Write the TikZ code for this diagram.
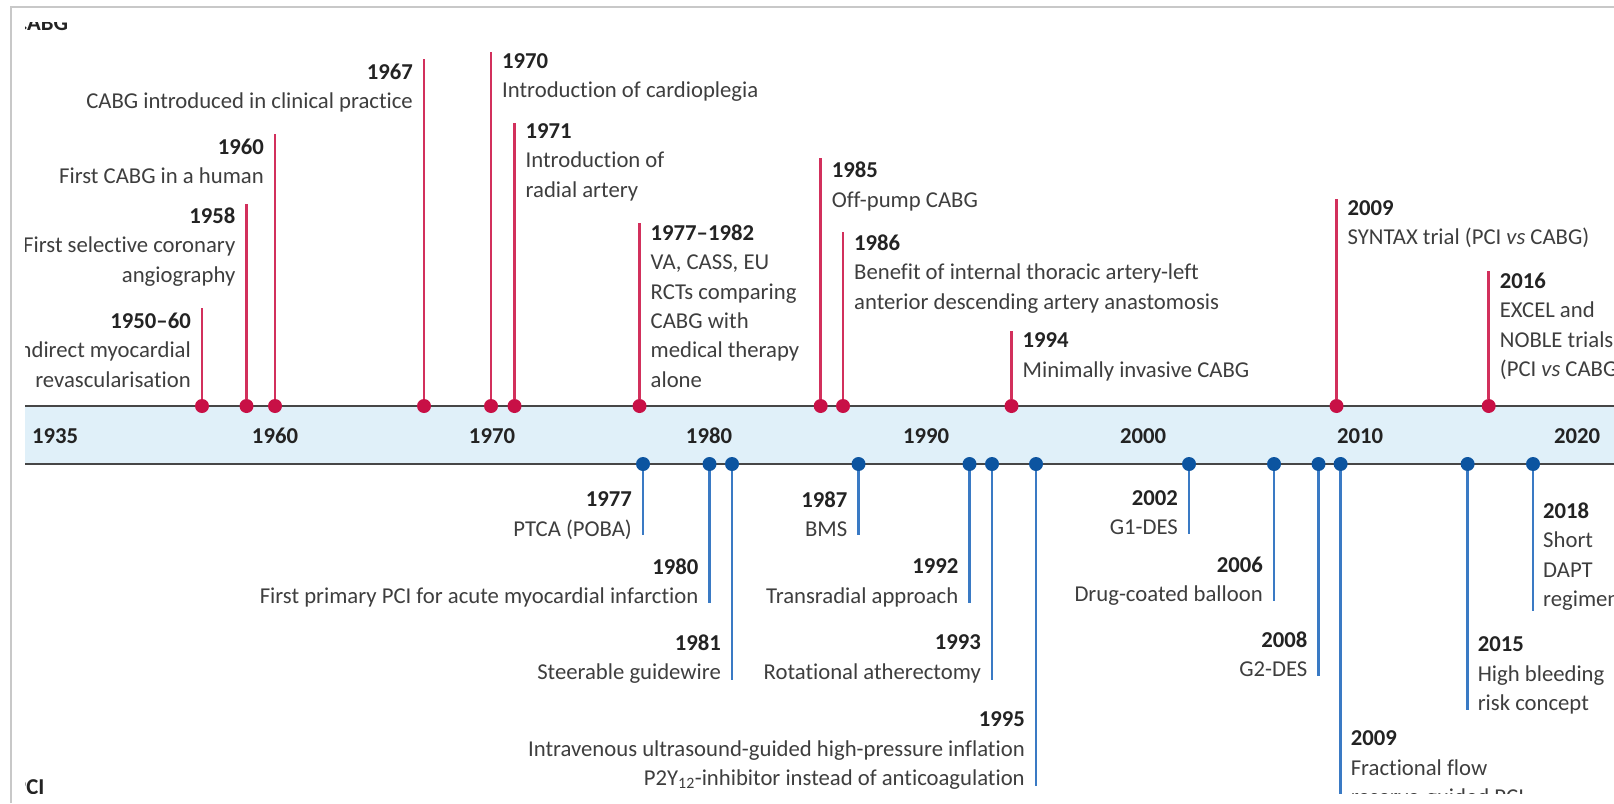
\documentclass[tikz,border=0pt]{standalone}
\usepackage{fontspec}
\setmainfont{Carlito}[Ligatures=NoCommon]
\definecolor{capred}{RGB}{200,16,70}
\definecolor{capstemred}{RGB}{210,48,92}
\definecolor{pciblue}{RGB}{12,84,160}
\definecolor{pcistemblue}{RGB}{58,122,196}
\definecolor{bandfill}{RGB}{224,240,249}
\definecolor{axisgray}{RGB}{70,70,70}
\definecolor{txtgray}{RGB}{62,62,62}
\definecolor{yeargray}{RGB}{35,35,35}
\definecolor{framegray}{RGB}{200,200,200}
\newcommand{\yearlbl}[1]{{\bfseries\color{yeargray}#1}}

\begin{document}
\begin{tikzpicture}[x=1pt,y=-1pt,
    txt/.style={inner sep=0pt, text=txtgray, font=\fontsize{22.7}{29.4}\selectfont},
    lblL/.style={txt, anchor=north west, align=left},
    lblR/.style={txt, anchor=north east, align=right},
    capdot/.style={circle, fill=capred, inner sep=0pt, minimum size=14pt},
    pcidot/.style={circle, fill=pciblue, inner sep=0pt, minimum size=14pt},
    capline/.style={draw=capstemred, line width=2.6pt},
    pciline/.style={draw=pcistemblue, line width=2.4pt},
    axisline/.style={draw=axisgray, line width=2.6pt}]
    \def \axtop {406}
    \def \axbot {464}
    \def \capoff {7.3} % half the cap height, year top from its centre

    \fill[white] (0,0) rectangle (1614,803);
    \useasboundingbox (0,0) rectangle (1614,803);
    \draw[framegray, line width=1.3pt] (11,803) -- (11,7) -- (1614,7);

    \begin{scope}
    \clip (25,22) rectangle (1614,793);
    \node[txt, anchor=base west] (capttl) at (15,30) {\yearlbl{CABG}};
    \node[txt, anchor=base west] (pcittl) at (14,794.6) {\yearlbl{PCI}};

    % the time band
    \coordinate (bandL) at (25,\axtop);
    \coordinate (bandR) at (1614,\axbot);
    \fill[bandfill] (bandL) rectangle (bandR);
    \draw[axisline] (bandL) -- (bandL -| bandR);
    \draw[axisline] (bandL |- bandR) -- (bandR);
    \node[txt, anchor=west] (a1935) at (32,436) {\yearlbl{1935}};
    \foreach \y in {1960,1970,...,2020}
      \node[txt] (a\y) at ({275+21.7*(\y-1960)},436) {\yearlbl{\y}};

    % CABG, text left of the stem
    \foreach \n/\x/\tp/\yc/\txt in {
      r1950/202/308/320/{\yearlbl{1950--60}\\Indirect myocardial\\revascularisation},
      r1958/246.5/204/215/{\yearlbl{1958}\\First selective coronary\\angiography},
      r1960/275/134/145.7/{\yearlbl{1960}\\First CABG in a human},
      r1967/424/59/70.7/{\yearlbl{1967}\\CABG introduced in clinical practice}}
    {
      \coordinate (\n top) at (\x,\tp);
      \node[capdot] (\n) at (\x,\axtop) {};
      \draw[capline] (\n) -- (\n top);
      \node[lblR] (\n txt) at ({\x-11},{\yc-\capoff}) {\txt};
    }
    % CABG, text right of the stem
    \foreach \n/\x/\tp/\yc/\txt in {
      r1970/491/52/60.7/{\yearlbl{1970}\\Introduction of cardioplegia},
      r1971/514.5/122.7/130.7/{\yearlbl{1971}\\Introduction of\\radial artery},
      r1977/639.5/223/231.7/{\yearlbl{1977--1982}\\VA, CASS, EU\\RCTs comparing\\CABG with\\medical therapy\\alone},
      r1985/820.7/158.3/169.3/{\yearlbl{1985}\\Off-pump CABG},
      r1986/843/231.7/241.7/{\yearlbl{1986}\\Benefit of internal thoracic artery-left\\anterior descending artery anastomosis},
      r1994/1011.5/331/340/{\yearlbl{1994}\\Minimally invasive CABG},
      r2009/1336.5/199.3/207.3/{\yearlbl{2009}\\SYNTAX trial (PCI \textit{vs} CABG)},
      r2016/1488.7/270.7/280/{\yearlbl{2016}\\EXCEL and\\NOBLE trials\\(PCI \textit{vs} CABG)}}
    {
      \coordinate (\n top) at (\x,\tp);
      \node[capdot] (\n) at (\x,\axtop) {};
      \draw[capline] (\n) -- (\n top);
      \node[lblL] (\n txt) at ({\x+11},{\yc-\capoff}) {\txt};
    }

    % PCI, text left of the stem
    \foreach \n/\x/\e/\yc/\txt in {
      b1977/643/535/499/{\yearlbl{1977}\\PTCA (POBA)},
      b1980/709.5/603/566/{\yearlbl{1980}\\First primary PCI for acute myocardial infarction},
      b1981/732/680/642/{\yearlbl{1981}\\Steerable guidewire},
      b1987/858.5/535/499/{\yearlbl{1987}\\BMS},
      b1992/969.5/603/566/{\yearlbl{1992}\\Transradial approach},
      b1993/992/680/642/{\yearlbl{1993}\\Rotational atherectomy},
      b1995/1036/786/719/{\yearlbl{1995}\\Intravenous ultrasound-guided high-pressure inflation\\P2Y\textsubscript{12}-inhibitor instead of anticoagulation},
      b2002/1189/534/497.5/{\yearlbl{2002}\\G1-DES},
      b2006/1274/601/564/{\yearlbl{2006}\\Drug-coated balloon},
      b2008/1318.5/676/639/{\yearlbl{2008}\\G2-DES}}
    {
      \coordinate (\n end) at (\x,\e);
      \node[pcidot] (\n) at (\x,\axbot) {};
      \draw[pciline] (\n) -- (\n end);
      \node[lblR] (\n txt) at ({\x-11},{\yc-\capoff}) {\txt};
    }
    % PCI, text right of the stem
    \foreach \n/\x/\e/\yc/\txt in {
      b2009/1340.6/800/738/{\yearlbl{2009}\\Fractional flow\\reserve-guided PCI},
      b2015/1467.6/710/644/{\yearlbl{2015}\\High bleeding\\risk concept},
      b2018/1533/611/510/{\yearlbl{2018}\\Short\\DAPT\\regimen}}
    {
      \coordinate (\n end) at (\x,\e);
      \node[pcidot] (\n) at (\x,\axbot) {};
      \draw[pciline] (\n) -- (\n end);
      \node[lblL] (\n txt) at ({\x+10},{\yc-\capoff}) {\txt};
    }
    \end{scope}
\end{tikzpicture}
\end{document}
